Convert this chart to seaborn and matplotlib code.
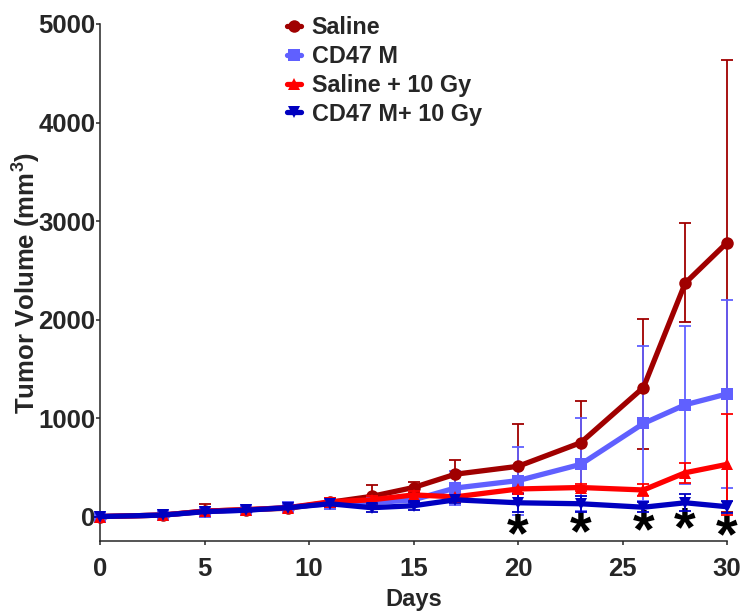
import numpy as np
import pandas as pd
import matplotlib
matplotlib.use("Agg")
import matplotlib.pyplot as plt
import seaborn as sns

# values (mm^3)
days = [0, 3, 5, 7, 9, 11, 13, 15, 17, 20, 23, 26, 28, 30]

saline = [0, 15, 55, 70, 85, 145, 205, 295, 430, 510, 750, 1310, 2370, 2780]
saline_up = [0, 10, 75, 20, 20, 45, 120, 60, 140, 425, 420, 700, 610, 1850]
saline_lo = [0, 10, 40, 20, 20, 45, 120, 60, 140, 235, 470, 620, 400, 2730]

cd47m = [0, 15, 50, 65, 95, 130, 140, 170, 290, 365, 530, 945, 1135, 1245]
cd47m_err = [0, 10, 20, 15, 20, 40, 40, 50, 170, 345, 470, 790, 800, 950]

sal10 = [0, 15, 55, 70, 90, 150, 170, 220, 200, 280, 295, 270, 445, 530]
sal10_err = [0, 10, 20, 15, 20, 40, 40, 40, 40, 40, 40, 60, 100, 515]

cd10 = [0, 15, 50, 65, 90, 130, 90, 110, 170, 140, 130, 95, 140, 100]
cd10_err = [0, 10, 15, 15, 15, 30, 40, 40, 30, 90, 80, 50, 85, 60]

groups = ["Saline", "CD47 M", "Saline + 10 Gy", "CD47 M+ 10 Gy"]
colors = ["#a00000", "#6060ff", "#ff0000", "#0000c0"]
markers = ["o", "s", "^", "v"]

# significance stars below the curves (data units)
star_days = [20, 23, 26, 28, 30]
star_y = [-198, -183, -163, -137, -208]

sns.set_style("ticks")
plt.rcParams["font.family"] = ["Liberation Sans", "DejaVu Sans"]
plt.rcParams["font.weight"] = "bold"
plt.rcParams["mathtext.fontset"] = "custom"
plt.rcParams["mathtext.bf"] = "Liberation Sans:bold"
plt.rcParams["mathtext.rm"] = "Liberation Sans:bold"

df = pd.concat([
    pd.DataFrame({"Day": days, "Volume": saline, "Group": groups[0]}),
    pd.DataFrame({"Day": days, "Volume": cd47m, "Group": groups[1]}),
    pd.DataFrame({"Day": days, "Volume": sal10, "Group": groups[2]}),
    pd.DataFrame({"Day": days, "Volume": cd10, "Group": groups[3]}),
])

fig = plt.figure(figsize=(7.43, 6.15), dpi=100)
ax = fig.add_axes([0.1346, 0.12, 0.8439, 0.841])

errs = {
    groups[0]: [saline_lo, saline_up],
    groups[1]: [cd47m_err, cd47m_err],
    groups[2]: [sal10_err, sal10_err],
    groups[3]: [cd10_err, cd10_err],
}
vals = {groups[0]: saline, groups[1]: cd47m, groups[2]: sal10, groups[3]: cd10}

# draw back to front so Saline sits on top
for i in [3, 2, 1, 0]:
    g = groups[i]
    ax.errorbar(days, vals[g], yerr=errs[g], fmt="none", ecolor=colors[i],
                elinewidth=1.3, capsize=4, capthick=1.3, zorder=2 + i, clip_on=False)
    sns.lineplot(data=df[df["Group"] == g], x="Day", y="Volume", color=colors[i],
                 marker=markers[i], markersize=9, markeredgewidth=0, linewidth=3.8,
                 ax=ax, zorder=3 + i, clip_on=False, label=g)

for d, y in zip(star_days, star_y):
    ax.text(d, y, r"$\mathbf{*}$", fontsize=40, ha="center", va="center",
            color="black", clip_on=False)

ax.set_xlim(0, 30)
ax.set_ylim(-250, 5000)
ax.set_xticks([0, 5, 10, 15, 20, 25, 30])
ax.set_yticks([0, 1000, 2000, 3000, 4000, 5000])
ax.tick_params(axis="both", labelsize=18.5, length=3, width=1.1, direction="out")
ax.tick_params(axis="y", pad=0.5)
ax.tick_params(axis="x", pad=8.5)
for lab in ax.get_xticklabels() + ax.get_yticklabels():
    lab.set_fontweight("bold")
ax.set_xlabel("Days", fontsize=17, fontweight="bold", labelpad=5)
ax.set_ylabel("Tumor Volume (mm$^\\mathbf{3}$)", fontsize=18.5, fontweight="bold", labelpad=-3)
for s in ["left", "bottom"]:
    ax.spines[s].set_linewidth(1.1)
sns.despine(ax=ax)

handles, labels = ax.get_legend_handles_labels()
order = [labels.index(g) for g in groups]
leg = ax.legend([handles[k] for k in order], [labels[k] for k in order],
                loc="upper left", bbox_to_anchor=(0.265, 1.056), frameon=False,
                handlelength=0.6, handletextpad=0.45, labelspacing=0.25,
                prop={"weight": "bold", "size": 16.8})

fig.savefig("out.png", dpi=100)
